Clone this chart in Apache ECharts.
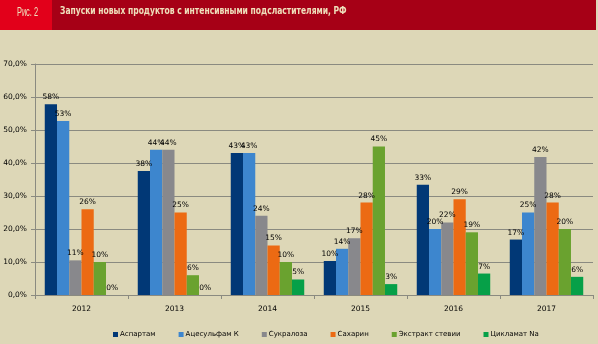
<!DOCTYPE html>
<html><head><meta charset="utf-8">
<script src="https://cdn.jsdelivr.net/npm/echarts@6/dist/echarts.min.js"></script>
<style>html,body{margin:0;padding:0;background:#DDD7B7;}#c{width:598px;height:344px;}</style>
</head><body><div id="c"></div>
<script>
const categories = ['2012','2013','2014','2015','2016','2017'];
const seriesNames = ['Аспартам','Ацесульфам К','Сукралоза','Сахарин','Экстракт стевии','Цикламат Na'];
const aspartam = [57.8, 37.6, 43.0, 10.3, 33.4, 16.8];
const acesulfam = [52.7, 44.0, 43.0, 14.0, 20.0, 25.0];
const sucralose = [10.5, 44.0, 24.0, 17.2, 22.0, 41.8];
const saccharin = [26.0, 25.0, 15.0, 28.0, 29.0, 28.0];
const stevia = [10.0, 6.0, 10.0, 45.0, 19.0, 20.0];
const cyclamate = [0.0, 0.0, 4.7, 3.3, 6.5, 5.5];
const seriesData = [aspartam, acesulfam, sucralose, saccharin, stevia, cyclamate];
const colors = ['#013876','#3D86CE','#88888C','#EC6A13','#6AA22F','#06A048'];

const chart = echarts.init(document.getElementById('c'));
const font = 'DejaVu Sans';
chart.setOption({
  backgroundColor: '#DDD7B7',
  animation: false,
  graphic: [
    {type:'rect', shape:{x:0,y:0,width:596,height:30}, style:{fill:'#A60016'}, z:0},
    {type:'rect', shape:{x:0,y:0,width:52,height:30}, style:{fill:'#E2001A'}, z:1},
    {type:'text', x:17, y:13, scaleX:0.62, style:{text:'Рис. 2', fill:'#EFE0BC', verticalAlign:'middle', font:'12px "Liberation Sans", sans-serif'}, z:2},
    {type:'text', x:60, y:11.5, scaleX:0.69, style:{text:'Запуски новых продуктов с интенсивными подсластителями, РФ', fill:'#EFE0BC', verticalAlign:'middle', font:'bold 11px "DejaVu Sans", sans-serif'}, z:2}
  ],
  grid: {left:35, right:5, top:64, bottom:49, containLabel:false},
  legend: {
    bottom: 1, left: 108,
    itemWidth: 5, itemHeight: 5, itemGap: 23,
    icon: 'rect',
    textStyle: {fontFamily: font, fontSize: 7, color: '#000', padding:[0,0,0,-3]},
    data: seriesNames
  },
  xAxis: {
    type: 'category', data: categories,
    axisLine: {lineStyle: {color: '#8A8A80', width: 1}},
    axisTick: {show: true, length: 4, lineStyle: {color: '#8A8A80'}},
    axisLabel: {fontFamily: font, fontSize: 7.5, color: '#000', margin: 10}
  },
  yAxis: {
    type: 'value', min: 0, max: 70, interval: 10,
    axisLine: {show: true, lineStyle: {color: '#8A8A80', width: 1}},
    axisTick: {show: true, length: 4, lineStyle: {color: '#8A8A80'}},
    splitLine: {lineStyle: {color: '#8A8A80', width: 1}},
    axisLabel: {fontFamily: font, fontSize: 7.5, color: '#000', margin: 8,
      formatter: v => v.toFixed(1).replace('.', ',') + '%'}
  },
  series: seriesNames.map((n, i) => ({
    name: n, type: 'bar', data: seriesData[i],
    barGap: '0%', barCategoryGap: '21%',
    itemStyle: {color: colors[i]},
    label: {show: true, position: 'top', distance: 3, fontFamily: font, fontSize: 7.5, color: '#000',
      formatter: p => Math.round(p.value) + '%'}
  }))
});
</script></body></html>
